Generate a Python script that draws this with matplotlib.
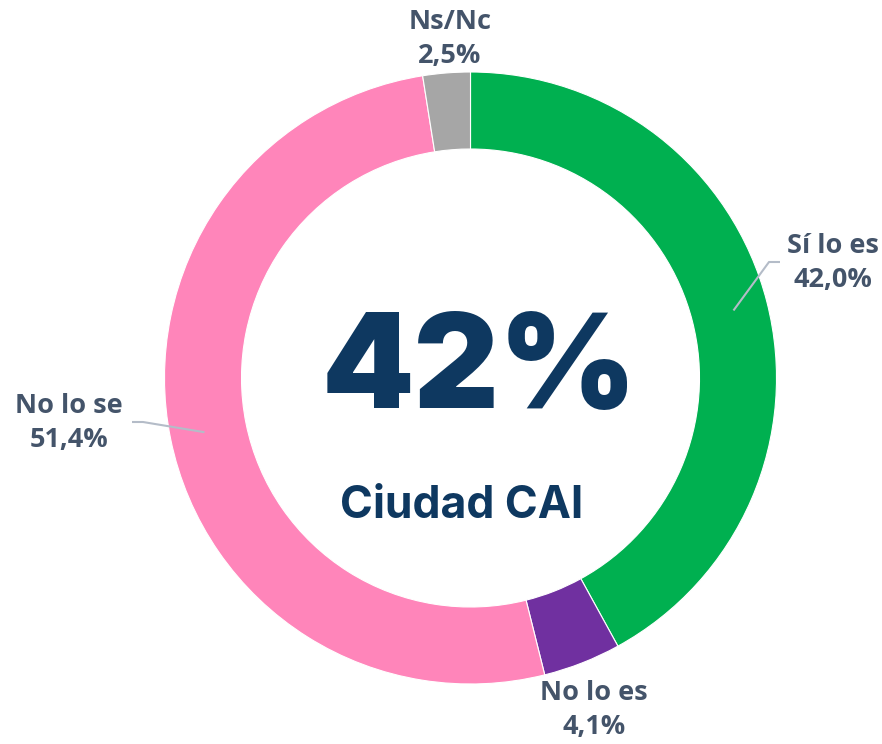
import matplotlib
matplotlib.use("Agg")
import matplotlib.pyplot as plt
import numpy as np

categories = ["Sí lo es", "No lo es", "No lo se", "Ns/Nc"]
values = [42.0, 4.1, 51.4, 2.5]
colors = ["#00B050", "#7030A0", "#FF85BA", "#A6A6A6"]
value_labels = ["42,0%", "4,1%", "51,4%", "2,5%"]
center_value = "42%"
center_label = "Ciudad CAI"

W, H = 882, 744
fig = plt.figure(figsize=(W / 100, H / 100), dpi=100)
ax = fig.add_axes([0, 0, 1, 1])
ax.set_xlim(0, W)
ax.set_ylim(0, H)
ax.set_aspect("equal")
ax.axis("off")

cx, cy = 470.5, H - 378
R = 306
width = 77

wedges, _ = ax.pie(values, colors=colors, startangle=90, counterclock=False,
                   radius=R, center=(cx, cy), frame=True,
                   wedgeprops=dict(width=width, edgecolor="white", linewidth=0.8))
ax.set_xlim(0, W)
ax.set_ylim(0, H)
ax.axis("off")

txt_color = "#44546A"
line_color = "#B4BCC8"
lab_font = dict(family=["Open Sans", "DejaVu Sans"], fontweight="bold", fontsize=19.5,
                color=txt_color, ha="center", va="center", linespacing=1.38)

# label positions (pixel coords from top)
label_pos = {
    "Sí lo es": (833, 263),
    "No lo es": (594, 710),
    "No lo se": (69, 423),
    "Ns/Nc": (450, 39),
}
for cat, vl in zip(categories, value_labels):
    x, y = label_pos[cat]
    ax.text(x, H - y, f"{cat}\n{vl}", **lab_font)

# leader lines
def mid_point(i, r):
    w = wedges[i]
    ang = np.deg2rad((w.theta1 + w.theta2) / 2)
    return cx + r * np.cos(ang), cy + r * np.sin(ang)

x0, y0 = mid_point(0, R - width / 2 + 4)
ax.plot([x0, 769, 780], [y0, H - 262, H - 262], color=line_color, lw=1.5,
        solid_capstyle="butt")
x0, y0 = mid_point(2, R - width / 2 + 4)
ax.plot([x0, 143, 132], [y0, H - 422, H - 422], color=line_color, lw=1.5,
        solid_capstyle="butt")

ax.text(cx + 9, H - 374, center_value, family=["Inter", "DejaVu Sans"],
        fontweight="black", fontsize=95, color="#0E3860", ha="center", va="center")
ax.text(cx - 9, H - 506, center_label, family=["Inter", "DejaVu Sans"],
        fontweight="bold", fontsize=32, color="#0E3860", ha="center", va="center")

fig.savefig("out.png", dpi=100)
